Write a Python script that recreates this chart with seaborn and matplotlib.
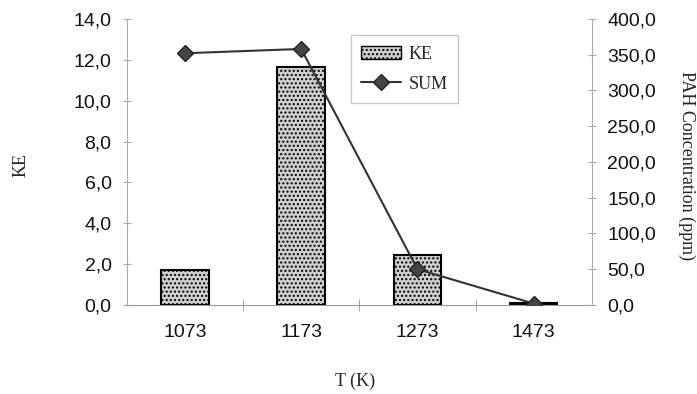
import matplotlib
matplotlib.use("Agg")
import numpy as np
import pandas as pd
import seaborn as sns
from matplotlib import pyplot as plt
from matplotlib.ticker import FixedLocator, FuncFormatter
from matplotlib.patches import Patch
from matplotlib.lines import Line2D

temps = ["1073", "1173", "1273", "1473"]
ke = [1.7, 11.65, 2.45, 0.08]
pah_sum = [352.0, 358.0, 50.0, 2.0]

sns.set_style("white")
plt.rcParams["hatch.color"] = "#222222"
plt.rcParams["hatch.linewidth"] = 1.0

df = pd.DataFrame({"T": temps, "KE": ke, "SUM": pah_sum})

fig = plt.figure(figsize=(6.97, 3.94), dpi=100)
ax = fig.add_axes([0.182, 0.226, 0.667, 0.726])

sns.barplot(data=df, x="T", y="KE", ax=ax, color="#cfcfcf", width=0.41,
            edgecolor="black", linewidth=1.5, hatch="....", zorder=2)
ax.set_ylim(0, 14)
ax.set_xlim(-0.5, 3.5)
ax.set_yticks(np.arange(0, 14.1, 2))
ax.yaxis.set_major_formatter(FuncFormatter(lambda v, p: f"{v:.1f}".replace(".", ",")))

ax2 = ax.twinx()
ax2.plot(np.arange(len(temps)), df["SUM"], color="#333333", lw=1.5,
         marker="D", ms=8, mfc="#444444", mec="#222222", zorder=3)
ax2.set_ylim(0, 400)
ax2.set_yticks(np.arange(0, 401, 50))
ax2.yaxis.set_major_formatter(FuncFormatter(lambda v, p: f"{v:.1f}".replace(".", ",")))

for a in (ax, ax2):
    for s in a.spines.values():
        s.set_visible(False)
    for lbl in a.get_yticklabels():
        lbl.set_fontfamily("Liberation Sans")
        lbl.set_fontsize(14)
        lbl.set_color("#111111")

ax.spines["left"].set_visible(True)
ax.spines["left"].set_color("#aaaaaa")
ax.spines["bottom"].set_visible(True)
ax.spines["bottom"].set_color("#999999")
ax2.spines["right"].set_visible(True)
ax2.spines["right"].set_color("#aaaaaa")

ax.tick_params(axis="y", which="both", left=True, length=6, color="#aaaaaa", pad=8,
               direction="inout")
ax2.tick_params(axis="y", which="both", right=True, length=6, color="#aaaaaa", pad=8,
                direction="inout")
ax.tick_params(axis="x", which="major", bottom=False, pad=10)
ax.xaxis.set_minor_locator(FixedLocator([0.5, 1.5, 2.5]))
ax.tick_params(axis="x", which="minor", bottom=True, length=8, color="#999999",
               direction="inout")
for lbl in ax.get_xticklabels():
    lbl.set_fontfamily("Liberation Sans")
    lbl.set_fontsize(14)
    lbl.set_color("#111111")

ax.set_xlabel("")
ax.set_ylabel("")
ax2.set_ylabel("")
fig.text(0.51, 0.033, "T (K)", family="Liberation Serif", fontsize=13,
         ha="center", va="center")
fig.text(0.03, 0.58, "KE", family="Liberation Serif", fontsize=13,
         rotation=90, ha="center", va="center")
fig.text(0.985, 0.58, "PAH Concentration (ppm)", family="Liberation Serif",
         fontsize=13, rotation=-90, ha="center", va="center")

handles = [Patch(facecolor="#cfcfcf", edgecolor="black", hatch="....", label="KE"),
           Line2D([0], [0], color="#333333", lw=1.5, marker="D", ms=8,
                  mfc="#444444", mec="#222222", label="SUM")]
ax2.legend(handles=handles, loc="upper left", bbox_to_anchor=(0.462, 0.975),
           frameon=True, fancybox=False, edgecolor="#bbbbbb",
           prop={"family": "Liberation Serif", "size": 13},
           handlelength=2.2, handletextpad=0.4, borderpad=0.6, labelspacing=0.7)

fig.savefig("out.png", dpi=100)
